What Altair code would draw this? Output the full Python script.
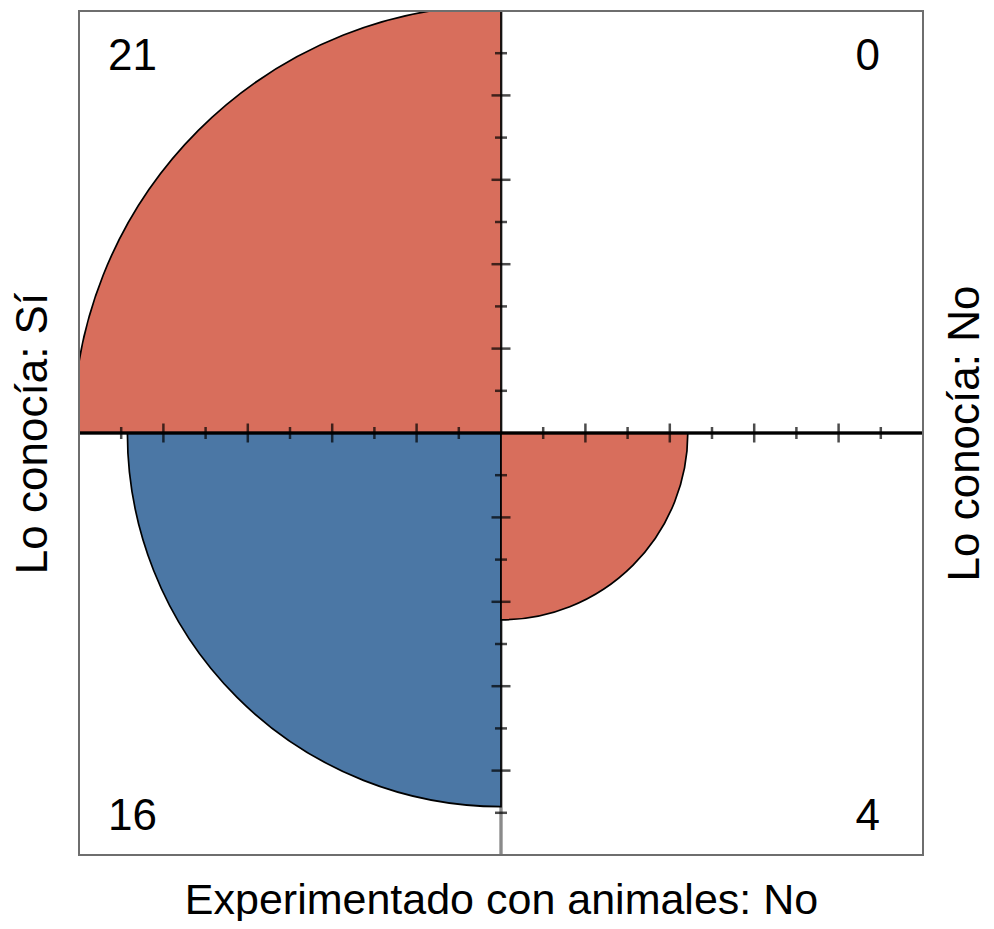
import math
import altair as alt
import pandas as pd

# ---- data: fourfold table (cell counts) ----
quadrants = ["top-left", "top-right", "bottom-left", "bottom-right"]
counts = [21, 0, 16, 4]
x_side = [-1, 1, -1, 1]
y_side = [1, 1, -1, -1]
quarter_index = [3, 0, 2, 1]          # clockwise quarter, starting at 12 o'clock
fill_group = ["diagonal", "off", "off", "diagonal"]

# axis labels
bottom_label = "Experimentado con animales: No"
left_label = "Lo conocía: Sí"
right_label = "Lo conocía: No"

# tick steps along the fourfold axes (fraction of the quadrant)
tick_steps = [0.1, 0.2, 0.3, 0.4, 0.5, 0.6, 0.7, 0.8, 0.9]

RED = "#D86E5C"
BLUE = "#4B77A5"
FONT = "Liberation Sans"
FS = 44

cells = pd.DataFrame({
    "quadrant": quadrants,
    "count": counts,
    "xs": x_side,
    "ys": y_side,
    "q": quarter_index,
    "grp": fill_group,
})
cells["t0"] = cells["q"] * math.pi / 2
cells["t1"] = cells["t0"] + math.pi / 2

rows = []
for i, s in enumerate(tick_steps):
    long_tick = (i + 1) % 2 == 0
    for sign in (-1, 1):
        rows.append({"dir": "h", "x": sign * s, "y": 0.0, "long": long_tick})
        rows.append({"dir": "v", "x": 0.0, "y": sign * s, "long": long_tick})
ticks = pd.DataFrame(rows)

DOM = [-1, 1]
sc = alt.Scale(domain=DOM, nice=False, zero=False)


def X(field=None, datum=None, **kw):
    if field is not None:
        return alt.X(field, type="quantitative", scale=sc, axis=None, **kw)
    return alt.X(datum=datum, type="quantitative", scale=sc, axis=None, **kw)


def Y(field=None, datum=None, **kw):
    if field is not None:
        return alt.Y(field, type="quantitative", scale=sc, axis=None, **kw)
    return alt.Y(datum=datum, type="quantitative", scale=sc, axis=None, **kw)


def title_axis(orient, pad, **kw):
    return alt.Axis(orient=orient, labels=False, ticks=False, grid=False,
                    domain=True, domainOpacity=0, titlePadding=pad, **kw)


base = alt.Chart(cells)

# grey vertical axis line (visible only where not covered by quarter circles)
vline = base.mark_rule(color="#8a8a8a", strokeWidth=2.5).encode(
    x=X(datum=0), y=Y(datum=DOM[0]), y2=alt.Y2(datum=DOM[1])
)

arcs = base.transform_filter("datum.count > 0").mark_arc(
    clip=True, stroke="black", strokeWidth=1.7
).encode(
    x=X(datum=0),
    y=Y(datum=0),
    theta=alt.Theta("t0:Q", scale=None, stack=False),
    theta2=alt.Theta2("t1:Q"),
    radius=alt.Radius("count:Q", scale=alt.Scale(type="sqrt", domain=[0, 21], range=[0, 428], zero=True)),
    color=alt.Color("grp:N", scale=alt.Scale(domain=["diagonal", "off"], range=[RED, BLUE]), legend=None),
)

hline = base.mark_rule(color="black", strokeWidth=2.5).encode(
    x=X(datum=DOM[0]),
    x2=alt.X2(datum=DOM[1]),
    y=Y(datum=0),
)

tk = alt.Chart(ticks)
ticks_h_long = tk.transform_filter("datum.dir == 'h' && datum.long").mark_tick(
    orient="vertical", size=19, thickness=2.5, color="black").encode(
    x=alt.X("x:Q", scale=sc, title=bottom_label,
            axis=title_axis("bottom", 24, titleFontSize=43)),
    y=Y("y"))
ticks_h_short = tk.transform_filter("datum.dir == 'h' && !datum.long").mark_tick(
    orient="vertical", size=12, thickness=2.5, color="black").encode(x=X("x"), y=Y("y"))
ticks_v_long = tk.transform_filter("datum.dir == 'v' && datum.long").mark_tick(
    orient="horizontal", size=19, thickness=2.5, color="black").encode(
    x=X("x"),
    y=alt.Y("y:Q", scale=sc, title=left_label, axis=title_axis("left", 24)))
ticks_v_short = tk.transform_filter("datum.dir == 'v' && !datum.long").mark_tick(
    orient="horizontal", size=12, thickness=2.5, color="black").encode(
    x=X("x"),
    y=alt.Y("y:Q", scale=sc, title=right_label,
            axis=title_axis("right", 20, titleAngle=270, titleBaseline="top")))


def count_label(quad, align, dx, dy):
    return base.transform_filter(f"datum.quadrant == '{quad}'").mark_text(
        font=FONT, fontSize=FS, color="black", align=align, baseline="alphabetic", dx=dx, dy=dy
    ).encode(x=X("xs"), y=Y("ys"), text="count:Q")


lab_tl = count_label("top-left", "left", 29, 59)
lab_tr = count_label("top-right", "right", -43, 59)
lab_bl = count_label("bottom-left", "left", 29, -25)
lab_br = count_label("bottom-right", "right", -43, -25)

frame = base.mark_rect(filled=False, stroke="#6e6e6e", strokeWidth=2).encode(
    x=X(datum=DOM[0]), x2=alt.X2(datum=DOM[1]),
    y=Y(datum=DOM[0]), y2=alt.Y2(datum=DOM[1]),
)

chart = alt.layer(
    vline, arcs, hline,
    ticks_h_long, ticks_h_short, ticks_v_long, ticks_v_short,
    lab_tl, lab_tr, lab_bl, lab_br,
    frame,
).resolve_axis(x="independent", y="independent").properties(
    width=844, height=844,
    background="white",
    autosize=alt.AutoSizeParams(type="none"),
    padding={"left": 71, "top": 3, "right": 63, "bottom": 66},
).configure_view(strokeWidth=0).configure_axis(
    titleFont=FONT, titleFontSize=FS, titleFontWeight="normal", titleColor="black",
)

chart.save("out.html", embed_options={"renderer": "svg", "actions": False})
